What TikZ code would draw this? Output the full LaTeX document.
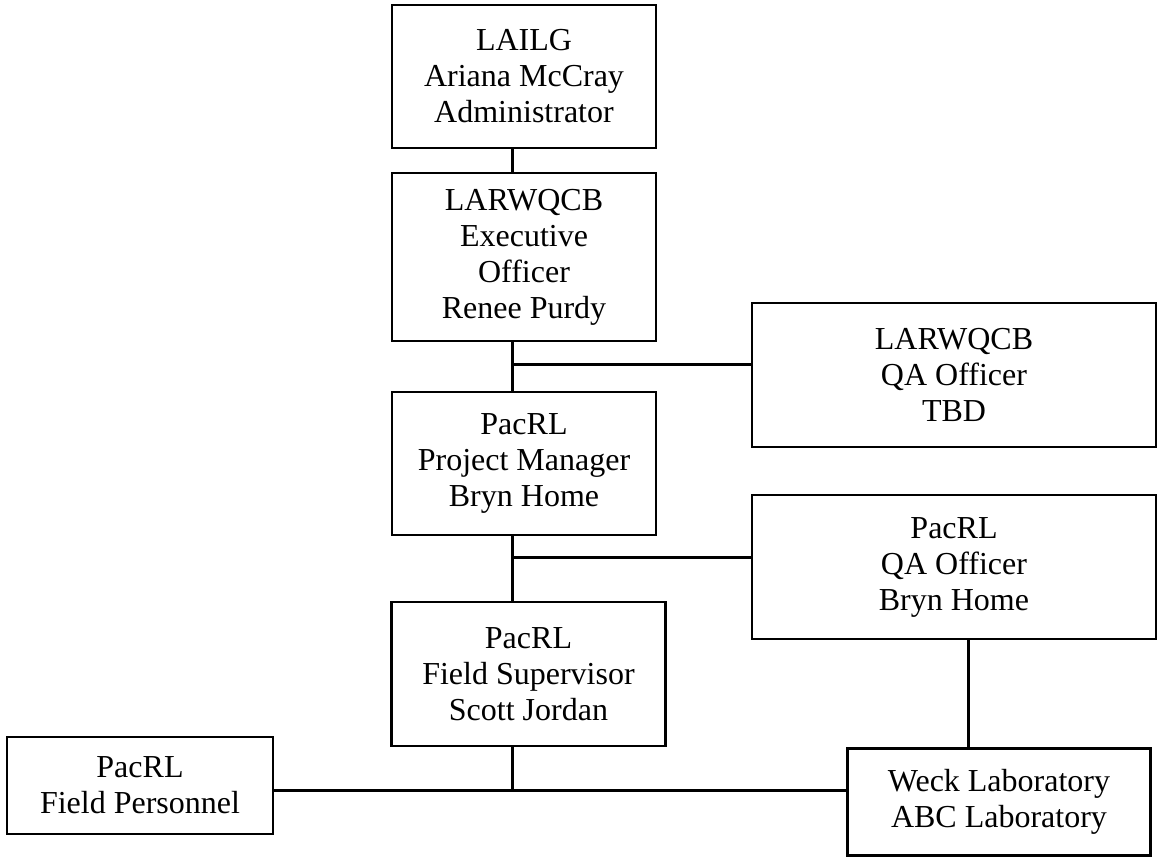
\documentclass[tikz,border=0pt]{standalone}
\usepackage{fontspec}
\setmainfont{Liberation Serif}
\usetikzlibrary{positioning}

\begin{document}
\begin{tikzpicture}[x=0.5pt, y=-0.5pt,
    box/.style={draw, line width=1.1pt, align=center, inner sep=0pt,
      font=\fontsize{16}{18}\selectfont},
    link/.style={line width=1.5pt}]
  \useasboundingbox (0,0) rectangle (1158,857);

  \node[box, minimum width=132pt, minimum height=71.5pt] (lailg) at (524,76.5)
    {LAILG\\Ariana McCray\\Administrator};
  \node[box, minimum width=132pt, minimum height=84pt] (exec) at (524,257)
    {LARWQCB\\Executive\\Officer\\Renee Purdy};
  \node[box, minimum width=202pt, minimum height=72pt] (qalarw) at (954,375)
    {LARWQCB\\QA Officer\\TBD};
  \node[box, minimum width=132pt, minimum height=71.5pt] (pm) at (524,463.5)
    {PacRL\\Project Manager\\Bryn Home};
  \node[box, minimum width=202pt, minimum height=72pt] (qapac) at (954,567)
    {PacRL\\QA Officer\\Bryn Home};
  \node[box, minimum width=137pt, minimum height=72pt] (fs) at (528.5,674)
    {PacRL\\Field Supervisor\\Scott Jordan};
  \node[box, minimum width=133pt, minimum height=48.5pt] (fp) at (140,785.5)
    {PacRL\\Field Personnel};
  \node[box, minimum width=151.5pt, minimum height=53.5pt] (lab) at (999,802)
    {Weck Laboratory\\ABC Laboratory};

  \coordinate (j1) at (512,364);
  \coordinate (j2) at (512,557);
  \coordinate (j3) at (512,790);
  \coordinate (j4) at (968,700);

  \draw[link] (lailg.south -| j1) -- (exec.north -| j1);
  \draw[link] (exec.south -| j1) -- (pm.north -| j1);
  \draw[link] (j1) -- (j1 -| qalarw.west);
  \draw[link] (pm.south -| j1) -- (fs.north -| j1);
  \draw[link] (j2) -- (j2 -| qapac.west);
  \draw[link] (fs.south -| j1) -- (j3);
  \draw[link] (fp.east |- j3) -- (lab.west |- j3);
  \draw[link] (qapac.south -| j4) -- (lab.north -| j4);
\end{tikzpicture}
\end{document}
